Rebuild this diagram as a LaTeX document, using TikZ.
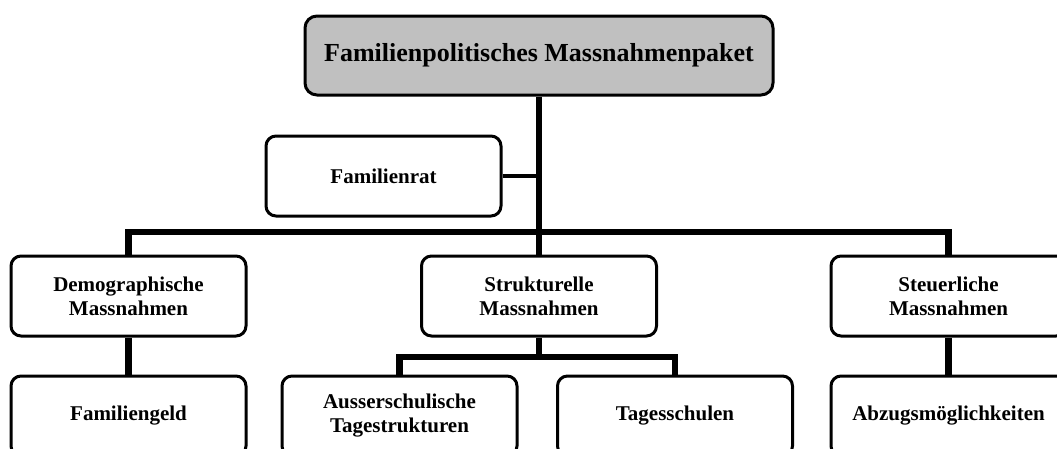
\documentclass[tikz,border=0pt]{standalone}
\usepackage{fontspec}
\setmainfont{Liberation Serif}
\usetikzlibrary{backgrounds}
\definecolor{topgray}{HTML}{C0C0C0}
\begin{document}
\begin{tikzpicture}[x=1pt,y=1pt,
  box/.style={draw=black, line width=3pt, fill=white, rounded corners=10pt,
    minimum width=235pt, minimum height=80pt, inner sep=0pt, align=center,
    font=\fontsize{21}{24}\selectfont\bfseries},
  topbox/.style={box, fill=topgray, rounded corners=12pt, minimum width=468pt, minimum height=79pt,
    font=\fontsize{26}{30}\selectfont\bfseries},
  conn/.style={draw=black, line width=6.5pt},
  thinconn/.style={draw=black, line width=4.5pt}]
\useasboundingbox (0,0) rectangle (1057,-448);
\clip (0,0) rectangle (1057,-448);
\node[topbox] (top) at (539,-55.5) {Familienpolitisches Massnahmenpaket};
\node[box] (rat) at (383.5,-176) {Familienrat};
\node[box] (demo) at (128.5,-296) {Demographische\\Massnahmen};
\node[box] (strukt) at (539,-296) {Strukturelle\\Massnahmen};
\node[box] (steuer) at (948.5,-296) {Steuerliche\\Massnahmen};
\node[box] (geld) at (128.5,-416) {Familiengeld};
\node[box] (ausser) at (399.5,-416) {Ausserschulische\\Tagestrukturen};
\node[box] (tages) at (675,-416) {Tagesschulen};
\node[box] (abzug) at (948.5,-416) {Abzugsmöglichkeiten};
\coordinate (bus) at (539,-232);
\coordinate (sub) at (539,-357);
\begin{scope}[on background layer]
\draw[conn] (top.south) -- (strukt.north);
\draw[thinconn] (rat.east) -- (rat.east -| top.south);
\draw[conn] (demo.north) |- (bus) -| (steuer.north);
\draw[conn] (demo.south) -- (geld.north);
\draw[conn] (steuer.south) -- (abzug.north);
\draw[conn] (strukt.south) -- (sub);
\draw[conn] (ausser.north) |- (sub) -| (tages.north);
\end{scope}
\end{tikzpicture}
\end{document}
